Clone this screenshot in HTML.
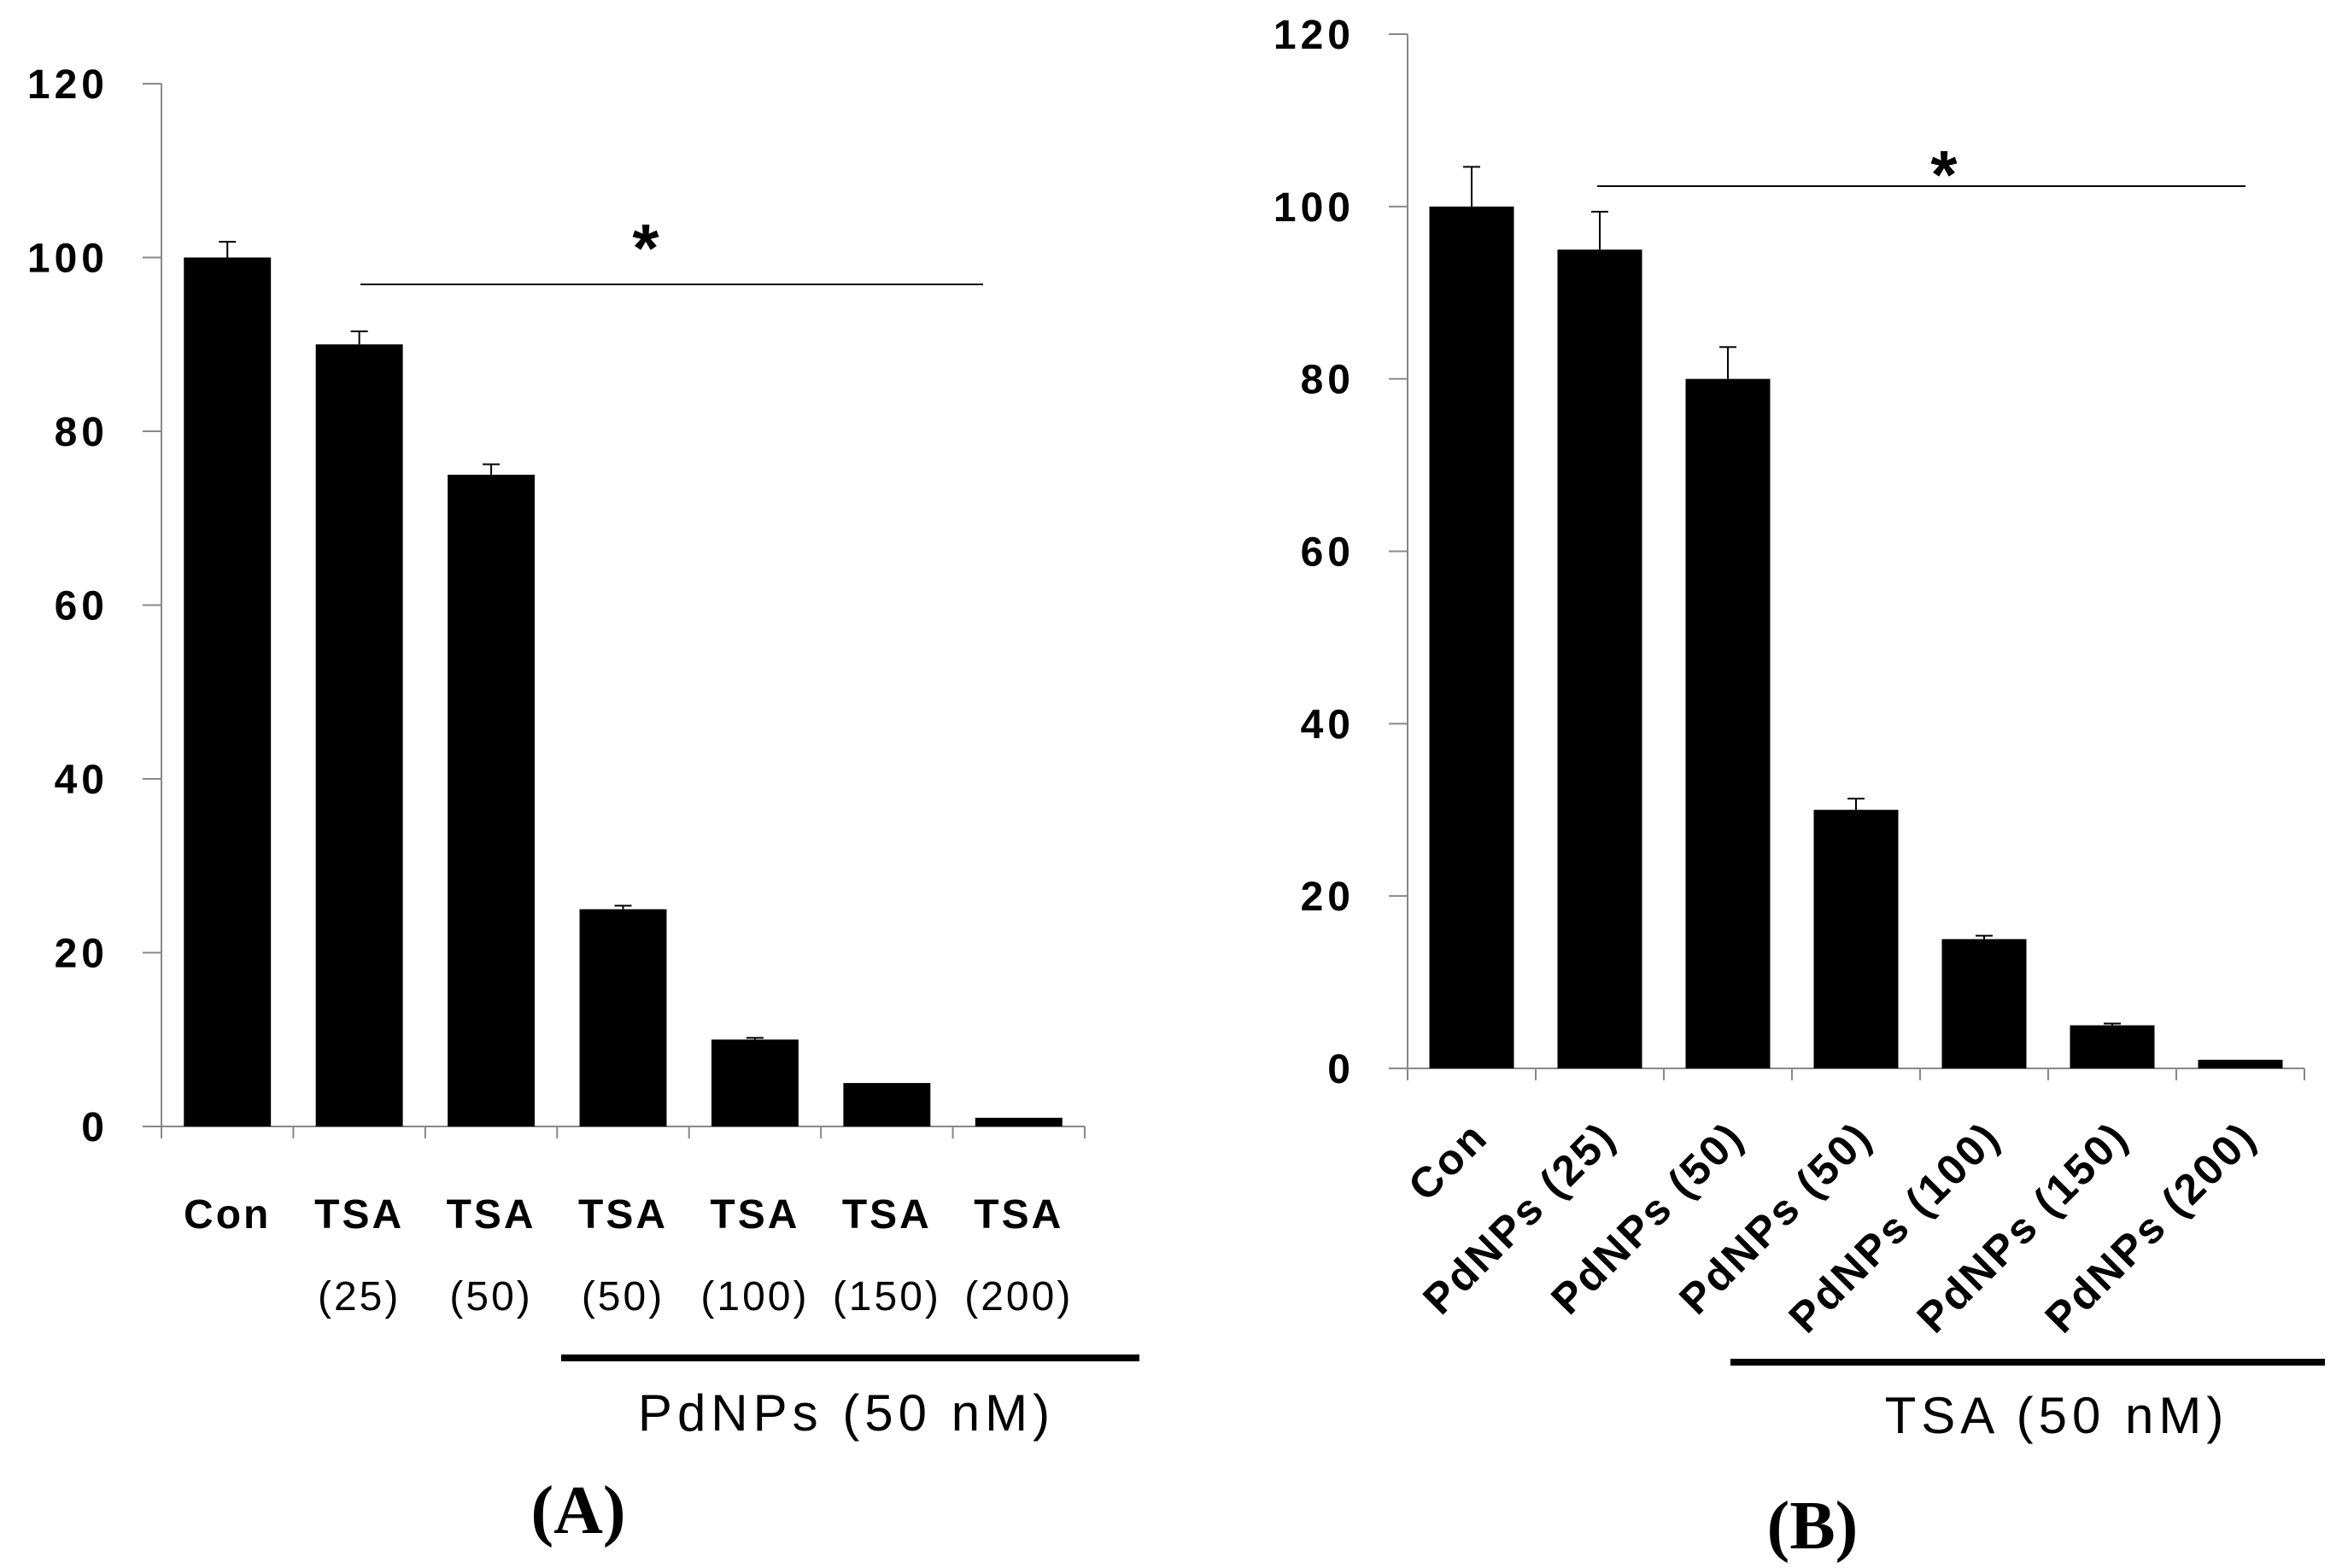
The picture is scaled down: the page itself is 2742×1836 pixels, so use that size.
<!DOCTYPE html>
<html><head><meta charset="utf-8"><style>
html,body{margin:0;padding:0;background:#fff}
svg{display:block}
text{font-family:"Liberation Sans",sans-serif}
text.serif{font-family:"Liberation Serif",serif}
</style></head><body>
<svg id="fig" width="2742" height="1836" viewBox="0 0 2742 1836"></svg>
<script>
const catsA = ["Con","TSA (25)","TSA (50)","TSA (50)","TSA (100)","TSA (150)","TSA (200)"];
const valsA = [100,90,75,25,10,5,1];
const errA = [1.8,1.5,1.2,0.4,0.2,0,0];
const catsB = ["Con","PdNPs (25)","PdNPs (50)","PdNPs (50)","PdNPs (100)","PdNPs (150)","PdNPs (200)"];
const valsB = [100,95,80,30,15,5,1];
const errB = [4.6,4.4,3.7,1.3,0.4,0.2,0];
const ticks = [0,20,40,60,80,100,120];

const NS="http://www.w3.org/2000/svg";
const svg=document.getElementById('fig');
function mk(tag,attrs,parent){const e=document.createElementNS(NS,tag);for(const k in attrs)e.setAttribute(k,attrs[k]);(parent||svg).appendChild(e);return e;}

function panel(cfg){
  const g=mk('g',{});
  
  
  const y=v=>cfg.y0-(v/120)*(cfg.y0-cfg.y120);
  const cw=(cfg.x1-cfg.x0)/cfg.cats.length;
  const xc=i=>cfg.x0+cw*(i+0.5);
  const ya=mk('line',{x1:cfg.x0,y1:cfg.y120,x2:cfg.x0,y2:cfg.y0,stroke:'#888','stroke-width':2},g);
  
  const xa=mk('line',{x1:cfg.x0,y1:cfg.y0,x2:cfg.x1,y2:cfg.y0,stroke:'#888','stroke-width':2},g);
  
  ticks.forEach(t=>{
    mk('line',{x1:cfg.x0-22,y1:y(t),x2:cfg.x0,y2:y(t),stroke:'#888','stroke-width':2},g);
    const tl=mk('text',{x:cfg.tickRight,y:y(t)+17,'text-anchor':'end','font-size':48,'font-weight':'bold','letter-spacing':5},g);
    tl.textContent=t;
    
  });
  for(let i=0;i<=cfg.cats.length;i++){
    mk('line',{x1:cfg.x0+cw*i,y1:cfg.y0,x2:cfg.x0+cw*i,y2:cfg.y0+14,stroke:'#888','stroke-width':2},g);
  }
  cfg.vals.forEach((v,i)=>{
    const bw=cw*0.66;
    const b=mk('rect',{x:xc(i)-bw/2,y:y(v),width:bw,height:cfg.y0-y(v),fill:'#000'},g);
    
    if(cfg.err[i]>0){
      const ye=y(v+cfg.err[i]);
      mk('line',{x1:xc(i),y1:y(v),x2:xc(i),y2:ye,stroke:'#000','stroke-width':2},g);
      const eb=mk('line',{x1:xc(i)-10,y1:ye,x2:xc(i)+10,y2:ye,stroke:'#000','stroke-width':2},g);
      
    }
    cfg.label(g,i,xc(i));
  });
  const sl=mk('line',{x1:cfg.sig[0],y1:cfg.sig[2],x2:cfg.sig[1],y2:cfg.sig[2],stroke:'#000','stroke-width':2},g);
  
  const st=mk('text',{x:(cfg.sig[3]),y:cfg.sig[4],'text-anchor':'middle','font-size':80,'font-weight':'bold'},g);
  st.textContent='*';
  const gl=mk('line',{x1:cfg.grp[0],y1:cfg.grp[2],x2:cfg.grp[1],y2:cfg.grp[2],stroke:'#000','stroke-width':8},g);
  
  const gt=mk('text',{x:cfg.grpText[0],y:cfg.grpText[1],'text-anchor':'middle','font-size':60,'letter-spacing':6},g);
  gt.textContent=cfg.grpLabel;
  const pl=mk('text',{x:cfg.panelLbl[0],y:cfg.panelLbl[1],'text-anchor':'middle','font-size':80,'font-weight':'bold','class':'serif'},g);
  pl.textContent=cfg.panelText;
}

panel({name:'panel-a',cats:catsA,vals:valsA,err:errA,x0:189,x1:1270,y0:1319,y120:98,tickRight:127,
  sig:[422,1151,333,756,318],grp:[657,1334,1590],grpText:[991,1675],grpLabel:'PdNPs (50 nM)',panelLbl:[677,1795],panelText:'(A)',
  label:(g,i,x)=>{
    const parts=catsA[i].split(' ');
    const t1=mk('text',{x:x,y:1438,'text-anchor':'middle','font-size':48,'font-weight':'bold','letter-spacing':3},g);
    t1.textContent=parts[0];
    if(parts[1]){const t2=mk('text',{x:x,y:1534,'text-anchor':'middle','font-size':48,'letter-spacing':3},g);
      t2.textContent=parts[1];}
  }});
panel({name:'panel-b',cats:catsB,vals:valsB,err:errB,x0:1648,x1:2698,y0:1251,y120:40,tickRight:1586,
  sig:[1870,2629,218,2276,232],grp:[2026,2722,1595],grpText:[2408,1678],grpLabel:'TSA (50 nM)',panelLbl:[2122,1813],panelText:'(B)',
  label:(g,i,x)=>{
    const ax=x+22, ay=1334;
    const t=mk('text',{x:ax,y:ay,'text-anchor':'end','font-size':50,'font-weight':'bold','letter-spacing':3,transform:`rotate(-45 ${ax} ${ay})`},g);
    t.textContent=catsB[i];
  }});
</script>
</body></html>
